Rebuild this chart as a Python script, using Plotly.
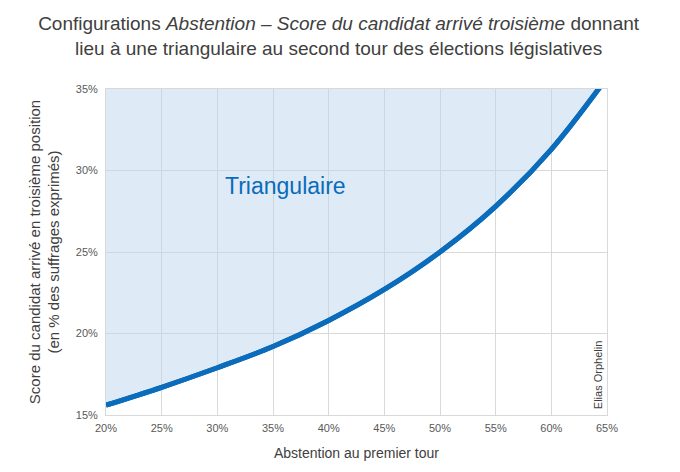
import plotly.graph_objects as go

# abstention au premier tour (%) et score minimal du 3e candidat (% des exprimés)
abstention = [20, 25, 30, 35, 40, 45, 50, 55, 60, 65]
score_troisieme = [15.6, 16.7, 17.9, 19.2, 20.8, 22.7, 25.0, 27.8, 31.3, 35.7]
plafond = [35] * len(abstention)

x_ticks = [20, 25, 30, 35, 40, 45, 50, 55, 60, 65]
y_ticks = [15, 20, 25, 30, 35]

BLEU = "#0a6cba"
GRIS = "#404040"

fig = go.Figure()

fig.add_trace(go.Scatter(
    x=abstention, y=score_troisieme,
    mode="lines", line=dict(color=BLEU, width=5, shape="spline"),
    hoverinfo="skip",
))
# zone "triangulaire" au-dessus de la courbe
fig.add_trace(go.Scatter(
    x=abstention, y=plafond,
    mode="lines", line=dict(width=0),
    fill="tonexty", fillcolor="rgba(190,213,238,0.5)",
    hoverinfo="skip",
))
# on redessine la courbe par-dessus le remplissage
fig.add_trace(go.Scatter(
    x=abstention, y=score_troisieme,
    mode="lines", line=dict(color=BLEU, width=5, shape="spline"),
    hoverinfo="skip",
))

fig.add_annotation(x=36.1, y=29.05, text="Triangulaire", showarrow=False,
                   font=dict(size=23, color=BLEU))
fig.add_annotation(x=64.2, y=17.45, text="Elias Orphelin", showarrow=False,
                   textangle=-90, font=dict(size=11, color=GRIS))

# la page ajoute 8px de marge autour du graphique
fig.update_layout(
    width=672, height=464,
    title=dict(
        text="Configurations <i>Abstention – Score du candidat arrivé troisième</i> donnant<br>"
             "lieu à une triangulaire au second tour des élections législatives",
        x=0.492, xanchor="center", y=1 - 22 / 464, yanchor="middle",
        font=dict(size=19, color=GRIS),
    ),
    font=dict(family="Arial, Liberation Sans, sans-serif", color=GRIS),
    showlegend=False,
    margin=dict(l=98, r=73, t=81, b=57),
    plot_bgcolor="white",
    paper_bgcolor="white",
)

fig.update_xaxes(
    range=[20, 65], tickvals=x_ticks, ticktext=[f"{v}%" for v in x_ticks],
    showgrid=True, gridcolor="#d9d9d9", showline=True, linecolor="#d9d9d9", mirror=True,
    zeroline=False, tickfont=dict(size=11, color="#595959"), ticklabelstandoff=3,
    title=dict(text="Abstention au premier tour", font=dict(size=14, color=GRIS), standoff=14),
)
fig.update_yaxes(
    range=[15, 35], tickvals=y_ticks, ticktext=[f"{v}%" for v in y_ticks],
    showgrid=True, gridcolor="#d9d9d9", showline=True, linecolor="#d9d9d9", mirror=True,
    zeroline=False, tickfont=dict(size=11, color="#595959"), ticklabelstandoff=5,
    title=dict(text="Score du candidat arrivé en troisième position<br>(en % des suffrages exprimés)",
               font=dict(size=15, color=GRIS), standoff=12),
)

fig.write_html("out.html")
